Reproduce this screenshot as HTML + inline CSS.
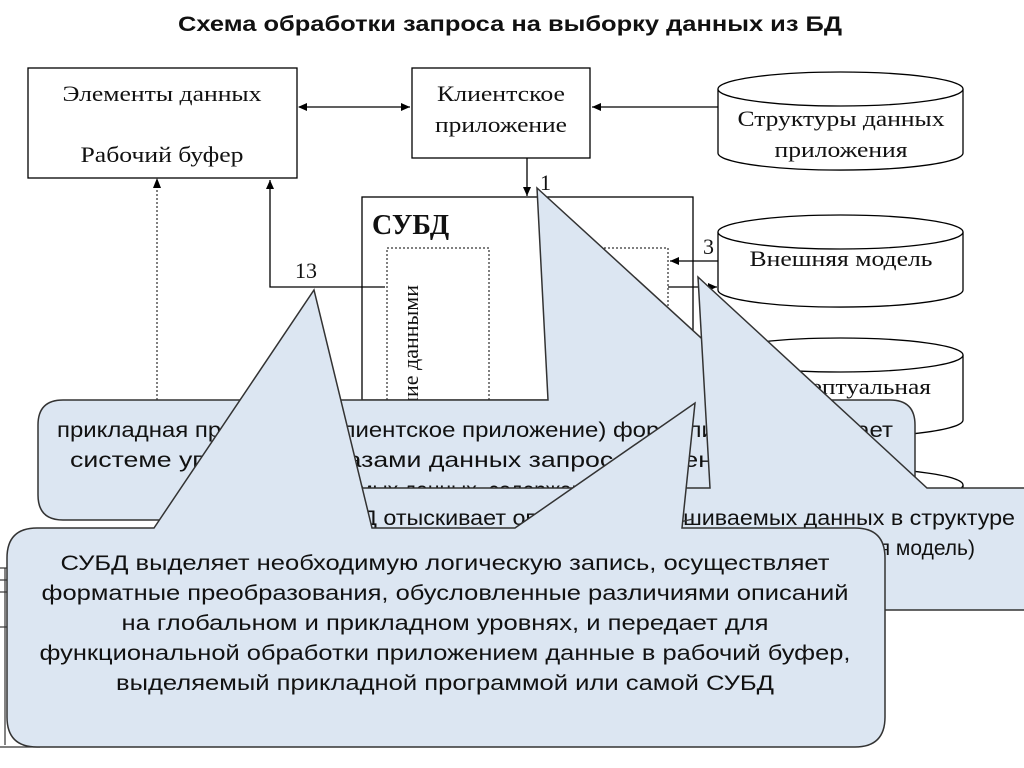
<!DOCTYPE html>
<html><head><meta charset="utf-8"><style>
html,body{margin:0;padding:0;background:#fff;}
svg{display:block;}
.s{font-family:"Liberation Serif","Noto Serif CJK SC",serif;font-size:22px;fill:#111;}
.a{font-family:"Liberation Sans","Noto Sans CJK SC",sans-serif;font-size:21px;fill:#111;}
</style></head><body>
<svg width="1024" height="768" viewBox="0 0 1024 768" xmlns="http://www.w3.org/2000/svg">
<defs>
<marker id="ar" markerWidth="10" markerHeight="10" refX="9" refY="5" orient="auto" markerUnits="userSpaceOnUse">
<path d="M0,1 L9,5 L0,9 z" fill="#000"/></marker>
<marker id="al" markerWidth="10" markerHeight="10" refX="1" refY="5" orient="auto" markerUnits="userSpaceOnUse">
<path d="M9,1 L0,5 L9,9 z" fill="#000"/></marker>
</defs>
<text x="510" y="31" text-anchor="middle" textLength="664" lengthAdjust="spacingAndGlyphs" style="font-family:'Liberation Sans',sans-serif;font-weight:bold;font-size:21px;fill:#111">Схема обработки запроса на выборку данных из БД</text>

<g fill="#fff" stroke="#000" stroke-width="1.3">
<rect x="28" y="68" width="269" height="110"/>
<rect x="412" y="68" width="178" height="90"/>
<path d="M718,89 L718,153 A122,17 0 0 0 963,153 L963,89"/>
<ellipse cx="840.5" cy="89" rx="122.5" ry="17"/>
<path d="M718,232 L718,290 A122,17 0 0 0 963,290 L963,232"/>
<ellipse cx="840.5" cy="232" rx="122.5" ry="17"/>
<path d="M718,355 L718,420 A122,17 0 0 0 963,420 L963,355"/>
<ellipse cx="840.5" cy="355" rx="122.5" ry="17"/>
<path d="M718,485 L718,520 L963,520 L963,485"/>
<ellipse cx="840.5" cy="485" rx="122.5" ry="17"/>
<rect x="362" y="197" width="331" height="203"/>
</g>
<g fill="none" stroke="#000" stroke-width="1" stroke-dasharray="2,2">
<rect x="387" y="248" width="102" height="160"/>
<rect x="600" y="248" width="68" height="160"/>
<line x1="157" y1="400" x2="157" y2="186"/>
</g>
<path d="M157,178 L153,188 L161,188z" fill="#000"/>
<g stroke="#000" stroke-width="1.3" fill="none">
<line x1="299" y1="107" x2="410" y2="107" marker-end="url(#ar)" marker-start="url(#al)"/>
<line x1="718" y1="107" x2="592" y2="107" marker-end="url(#ar)"/>
<line x1="527" y1="158" x2="527" y2="196" marker-end="url(#ar)"/>
<polyline points="385,287 270,287 270,180" marker-end="url(#ar)"/>
<line x1="718" y1="261" x2="670" y2="261" marker-end="url(#ar)"/>
<line x1="668" y1="287" x2="717" y2="287" marker-end="url(#ar)"/>
</g>
<text class="s" x="162" y="101" text-anchor="middle" textLength="199" lengthAdjust="spacingAndGlyphs">Элементы данных</text>
<text class="s" x="162" y="162" text-anchor="middle" textLength="163" lengthAdjust="spacingAndGlyphs">Рабочий буфер</text>
<text class="s" x="501" y="101" text-anchor="middle" textLength="128" lengthAdjust="spacingAndGlyphs">Клиентское</text>
<text class="s" x="501" y="132" text-anchor="middle" textLength="132" lengthAdjust="spacingAndGlyphs">приложение</text>
<text class="s" x="841" y="126" text-anchor="middle" textLength="207" lengthAdjust="spacingAndGlyphs">Структуры данных</text>
<text class="s" x="841" y="157" text-anchor="middle" textLength="133" lengthAdjust="spacingAndGlyphs">приложения</text>
<text class="s" x="841" y="266" text-anchor="middle" textLength="183" lengthAdjust="spacingAndGlyphs">Внешняя модель</text>
<text class="s" x="843" y="394" text-anchor="middle" textLength="176" lengthAdjust="spacingAndGlyphs">Концептуальная</text>
<text class="s" x="540" y="190">1</text>
<text class="s" x="703" y="254">3</text>
<text class="s" x="295" y="278">13</text>
<text x="372" y="234" style="font-family:'Liberation Serif',serif;font-weight:bold;font-size:28px;fill:#111">СУБД</text>
<text class="s" transform="translate(418,285) rotate(-90)" text-anchor="end">Управление данными</text>

<g stroke="#333" stroke-width="1.2" fill="none">
<line x1="0" y1="568" x2="10" y2="568"/><line x1="0" y1="580" x2="10" y2="580"/>
<line x1="0" y1="592" x2="10" y2="592"/><line x1="0" y1="627" x2="10" y2="627"/>
<line x1="5" y1="568" x2="5" y2="745"/><line x1="0" y1="747" x2="40" y2="747"/>
</g>

<path d="M63,400 L548,400 L537,188 L769,400 L890,400 Q915,400 915,425 L915,495 Q915,520 890,520 L63,520 Q38,520 38,495 L38,425 Q38,400 63,400Z" fill="#dce6f2" stroke="#333" stroke-width="1.5"/>
<text class="a" x="475" y="437" text-anchor="middle" textLength="836" lengthAdjust="spacingAndGlyphs">прикладная программа (клиентское приложение) формулирует и передает</text>
<text class="a" x="70" y="467" textLength="780" lengthAdjust="spacingAndGlyphs">системе управления базами данных запрос на чтение данных,</text>
<text class="a" x="475" y="497" text-anchor="middle">необходимых данных, содержащихся в БД</text>

<path d="M260,488 L710,488 L698,277 L927,488 L1040,488 L1040,610 L260,610 Q230,610 230,580 L230,518 Q230,488 260,488Z" fill="#dce6f2" stroke="#333" stroke-width="1.5"/>
<text class="a" x="1015" y="525" text-anchor="end" textLength="700" lengthAdjust="spacingAndGlyphs">СУБД отыскивает описание запрашиваемых данных в структуре</text>
<text class="a" x="975" y="555" text-anchor="end">(внешняя модель)</text>
<g stroke="#333" stroke-width="1.3"><line x1="533" y1="515" x2="548" y2="527"/><line x1="693" y1="519" x2="658" y2="527"/></g>

<path d="M37,528 L154,528 L314,290 L372,528 L515,528 L695,403 L682,528 L855,528 Q885,528 885,558 L885,717 Q885,747 855,747 L37,747 Q7,747 7,717 L7,558 Q7,528 37,528Z" fill="#dce6f2" stroke="#333" stroke-width="1.5"/>
<text class="a" x="445" y="570" text-anchor="middle" textLength="769" lengthAdjust="spacingAndGlyphs">СУБД выделяет необходимую логическую запись, осуществляет</text>
<text class="a" x="445" y="600" text-anchor="middle" textLength="807" lengthAdjust="spacingAndGlyphs">форматные преобразования, обусловленные различиями описаний</text>
<text class="a" x="445" y="630" text-anchor="middle" textLength="647" lengthAdjust="spacingAndGlyphs">на глобальном и прикладном уровнях, и передает для</text>
<text class="a" x="445" y="660" text-anchor="middle" textLength="811" lengthAdjust="spacingAndGlyphs">функциональной обработки приложением данные в рабочий буфер,</text>
<text class="a" x="445" y="690" text-anchor="middle" textLength="658" lengthAdjust="spacingAndGlyphs">выделяемый прикладной программой или самой СУБД</text>
</svg>
</body></html>
